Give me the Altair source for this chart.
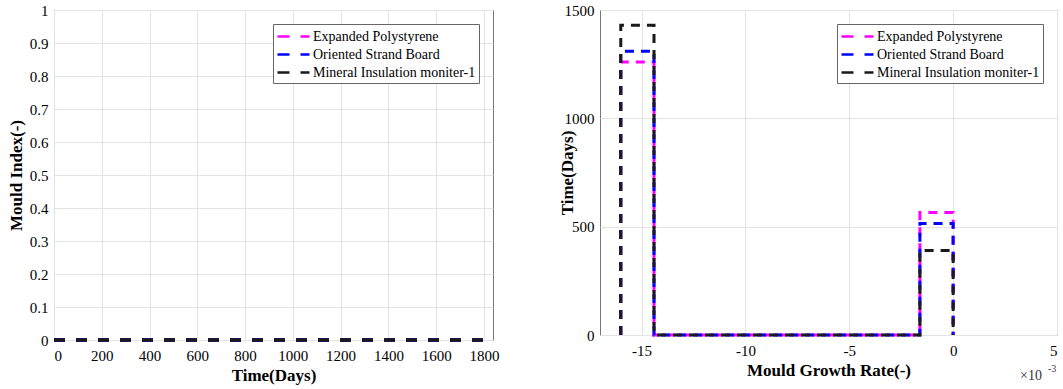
import altair as alt
import pandas as pd

# ---------------- data ----------------
series_names = ["Expanded Polystyrene", "Oriented Strand Board", "Mineral Insulation moniter-1"]
series_colors = ["#ff00ff", "#0000ff", "#1a1a1a"]

# Left panel: mould index over time (all series stay at 0)
time_days = [0, 1825]
mould_index_eps = [0.0, 0.0]
mould_index_osb = [0.0, 0.0]
mould_index_min = [0.0, 0.0]

# Right panel: histogram of mould growth rate (stairs outline)
bin_edges = [-0.016, -0.0144, -0.0128, -0.0112, -0.0096, -0.008,
             -0.0064, -0.0048, -0.0032, -0.0016, 0.0]
counts_eps = [1260, 0, 0, 0, 0, 0, 0, 0, 0, 565]
counts_osb = [1310, 0, 0, 0, 0, 0, 0, 0, 0, 515]
counts_min = [1430, 0, 0, 0, 0, 0, 0, 0, 0, 390]

FONT = "Liberation Serif"

# ---------------- tables ----------------
left_rows = []
for name, vals in zip(series_names, [mould_index_eps, mould_index_osb, mould_index_min]):
    for i, (t, v) in enumerate(zip(time_days, vals)):
        left_rows.append({"series": name, "t": t, "m": v, "idx": i})
left_df = pd.DataFrame(left_rows)

right_rows = []
for name, cnts in zip(series_names, [counts_eps, counts_osb, counts_min]):
    xs = [bin_edges[0]] + bin_edges[:-1] + [bin_edges[-1]]
    ys = [0] + cnts + [0]
    for i, (x, y) in enumerate(zip(xs, ys)):
        right_rows.append({"series": name, "rate": x, "count": y, "idx": i})
right_df = pd.DataFrame(right_rows)

color_scale = alt.Scale(domain=series_names, range=series_colors)
legend = alt.Legend(
    title=None, orient="top-right", offset=14, padding=3,
    fillColor="white", strokeColor="#666", symbolType="M-2,0H2",
    symbolSize=256, symbolOffset=8, symbolStrokeWidth=2.5, symbolDash=[12, 11],
    labelFont=FONT, labelFontSize=14, labelColor="black", labelOffset=10,
    labelLimit=400, rowPadding=1,
)

# ---------------- left chart ----------------
def left_layer(name):
    return alt.Chart(left_df).transform_filter(
        alt.datum.series == name
    ).mark_line(strokeWidth=3.5, strokeDash=[11, 11], clip=False).encode(
        x=alt.X("t:Q", scale=alt.Scale(domain=[0, 1838], nice=False),
                axis=alt.Axis(values=list(range(0, 1801, 200)), format="d",
                              title="Time(Days)", labelPadding=8)),
        y=alt.Y("m:Q", scale=alt.Scale(domain=[0, 1], nice=False),
                axis=alt.Axis(values=[i / 10 for i in range(11)], format=".1~f",
                              title="Mould Index(-)", titlePadding=4)),
        color=alt.Color("series:N", scale=color_scale, legend=legend),
        order=alt.Order("idx:Q"),
    )

left = alt.layer(*[left_layer(n) for n in series_names]).properties(width=439, height=330)

# ---------------- right chart ----------------
def right_layer(name):
    return alt.Chart(right_df).transform_filter(
        alt.datum.series == name
    ).mark_line(strokeWidth=3, strokeDash=[9, 7], interpolate="step-after", clip=False).encode(
        x=alt.X("rate:Q", scale=alt.Scale(domain=[-0.017, 0.005], nice=False),
                axis=alt.Axis(values=[-0.015, -0.01, -0.005, 0, 0.005],
                              labelExpr="toString(round(datum.value*1000))",
                              title="Mould Growth Rate(-)", labelPadding=8)),
        y=alt.Y("count:Q", scale=alt.Scale(domain=[0, 1500], nice=False),
                axis=alt.Axis(values=[0, 500, 1000, 1500], format="d",
                              title="Time(Days)", titlePadding=-12)),
        color=alt.Color("series:N", scale=color_scale, legend=legend),
        order=alt.Order("idx:Q"),
    )

exp_df = pd.DataFrame({"txt": ["\u00d710"], "sup": ["-3"]})
exp_base = alt.Chart(exp_df).mark_text(font=FONT, fontSize=14, align="left",
                                       baseline="middle", color="#333").encode(
    text="txt:N", x=alt.value(420), y=alt.value(366))
exp_sup = alt.Chart(exp_df).mark_text(font=FONT, fontSize=10, align="left",
                                      baseline="middle", color="#333").encode(
    text="sup:N", x=alt.value(448), y=alt.value(359))

right = alt.layer(*[right_layer(n) for n in series_names], exp_base, exp_sup).properties(
    width=457, height=325)

chart = alt.hconcat(left, right, spacing=57).resolve_scale(color="independent").resolve_legend(
    color="independent"
).properties(
    padding={"left": 6, "top": 2, "right": 2, "bottom": 2},
    background="white",
).configure(
    font=FONT
).configure_view(
    stroke="#777", strokeWidth=1
).configure_legend(
    labelFont=FONT, labelFontSize=14
).configure_axis(
    labelFont=FONT, labelFontSize=15, labelColor="black", labelPadding=6,
    titleFont=FONT, titleFontSize=17, titleFontWeight="bold", titleColor="black",
    titlePadding=4, grid=True, gridColor="#e3e3e3", domain=False, ticks=False,
)

chart.save("out.html", embed_options={"renderer": "svg", "actions": False})
